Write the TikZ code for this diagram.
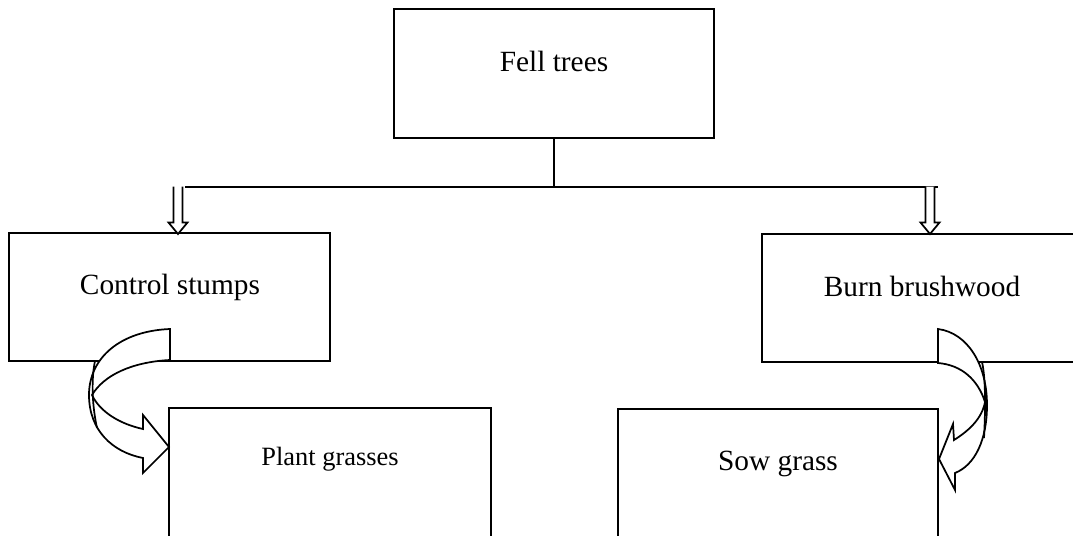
\documentclass[tikz,border=0pt]{standalone}
\usepackage{fontspec}
\setmainfont{Liberation Serif}
\usetikzlibrary{calc}
\begin{document}
\begin{tikzpicture}[x=0.75pt,y=-0.75pt,line width=1.5pt,line join=miter,
  box/.style={draw,rectangle,inner sep=0pt},
  lbl/.style={anchor=base,inner sep=0pt,font=\fontsize{22}{26}\selectfont},
  lblsmall/.style={anchor=base,inner sep=0pt,font=\fontsize{19.8}{24}\selectfont},
  curvedarrow/.style={draw,fill=white,line width=1.3pt},
  hollowdown/.pic={\draw[fill=white,line width=1.3pt] (-4.5,0) -- (-4.5,36) -- (-9.5,36) -- (0,47.5) -- (9.5,36) -- (4.5,36) -- (4.5,0);}]
\useasboundingbox (0,0) rectangle (1073,535);
\clip (0,0) rectangle (1073,535);
% boxes
\node[box,minimum width=240pt,minimum height=96.75pt] (fell) at (554,73.5) {};
\node[box,minimum width=240.75pt,minimum height=96pt] (ctrl) at (169.5,297) {};
\node[box,minimum width=240pt,minimum height=96pt] (burn) at (922,298) {};
\node[box,minimum width=241.5pt,minimum height=105pt] (plant) at (330,478) {};
\node[box,minimum width=240pt,minimum height=105pt] (sow) at (778,479) {};
% labels
\node[lbl] (tfell) at ($(fell.north)+(0,63)$) {Fell trees};
\node[lbl] (tctrl) at ($(ctrl.north)+(0.5,62)$) {Control stumps};
\node[lbl] (tburn) at ($(burn.north)+(0,63)$) {Burn brushwood};
\node[lblsmall] (tplant) at ($(plant.north)+(0,58)$) {Plant grasses};
\node[lbl] (tsow) at ($(sow.north)+(0,62)$) {Sow grass};
% branch connectors
\coordinate (bl) at (178,186.5);
\coordinate (br) at (930,186.5);
\draw (fell.south) -- (fell.south |- bl);
\draw ($(bl)+(7,0)$) -- ($(br)+(8,0)$);
\pic at (bl) {hollowdown};
\pic at (br) {hollowdown};
% left curved arrow (Control stumps -> Plant grasses)
\path[curvedarrow] (170,329) .. controls (120,331) and (89,358) .. (89,395)
  .. controls (89,430) and (112,452) .. (143,458) -- (143,473) -- (169,447)
  -- (143,415) -- (143,429) .. controls (120,424) and (100,412) .. (92,395)
  .. controls (104,375) and (132,362) .. (170,360) -- cycle;
\draw[line width=1.3pt] (95,361) .. controls (92,375) and (91,400) .. (97,428);
% right curved arrow (Burn brushwood -> Sow grass)
\path[curvedarrow] (938,329) .. controls (968,333) and (987,365) .. (987,405)
  .. controls (987,440) and (975,465) .. (955,473) -- (955,490) -- (939,459)
  -- (953,424) -- (954,440) .. controls (970,430) and (982,418) .. (985,402)
  .. controls (978,380) and (962,365) .. (938,363) -- cycle;
\draw[line width=1.3pt] (982,362) .. controls (985,375) and (986,400) .. (984,438);
\end{tikzpicture}
\end{document}
